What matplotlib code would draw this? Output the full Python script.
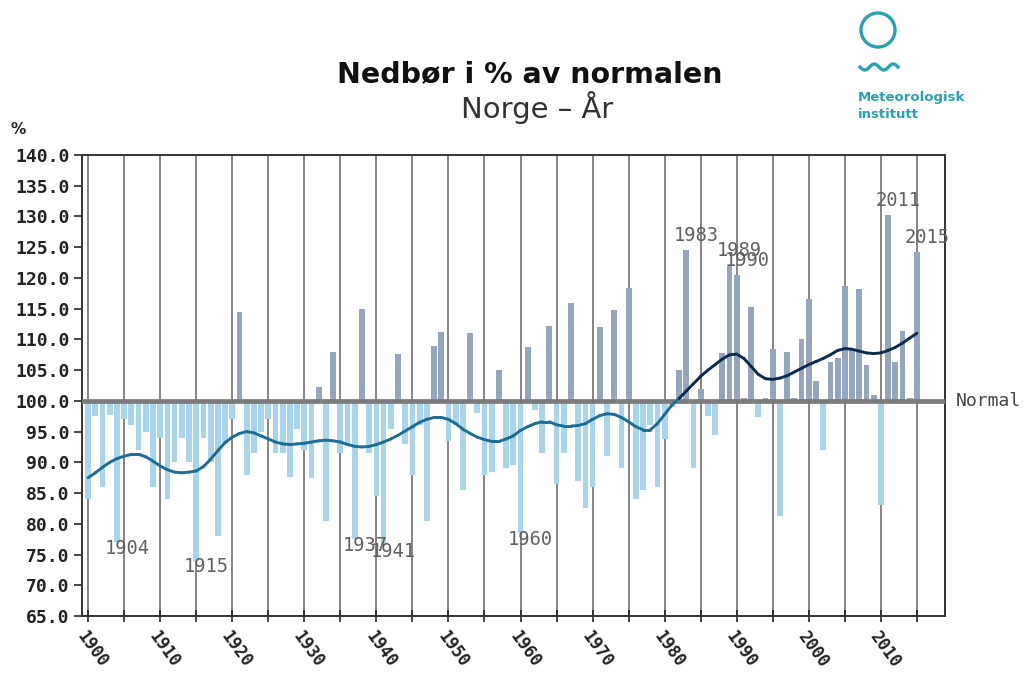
import numpy as np
import matplotlib
matplotlib.use("Agg")
import matplotlib.pyplot as plt
from matplotlib.collections import LineCollection
from matplotlib.patches import Ellipse
from matplotlib.lines import Line2D
from matplotlib.ticker import FixedLocator, FixedFormatter

# ---------------- data ----------------
years = list(range(1900, 2016))

precip = [
    84.0, 97.5, 86.0, 97.7, 77.0, 97.0, 96.0, 92.0, 95.0, 86.0,      # 1900-1909
    94.0, 84.0, 90.0, 94.0, 90.0, 74.0, 94.0, 90.0, 78.0, 93.0,      # 1910-1919
    97.0, 114.5, 88.0, 91.5, 95.0, 97.0, 91.5, 91.5, 87.6, 95.5,     # 1920-1929
    92.0, 87.5, 102.2, 80.5, 108.0, 91.5, 93.0, 77.5, 115.0, 91.5,   # 1930-1939
    84.5, 76.5, 95.5, 107.7, 93.0, 88.0, 96.0, 80.5, 109.0, 111.2,   # 1940-1949
    93.5, 96.0, 85.5, 111.0, 98.0, 88.0, 88.5, 105.0, 89.0, 89.5,    # 1950-1959
    78.5, 108.8, 98.5, 91.5, 112.2, 86.5, 91.5, 116.0, 87.0, 82.5,   # 1960-1969
    86.0, 112.0, 91.0, 114.8, 89.0, 118.3, 84.0, 85.5, 96.0, 86.0,   # 1970-1979
    93.8, 99.0, 105.0, 124.5, 89.0, 102.0, 97.5, 94.5, 107.8, 122.0, # 1980-1989
    120.5, 100.5, 115.3, 97.3, 100.4, 108.5, 81.3, 108.0, 100.5, 110.0,  # 1990-1999
    116.6, 103.2, 92.0, 106.3, 107.0, 118.7, 108.5, 118.2, 105.8, 101.0, # 2000-2009
    83.0, 130.2, 106.3, 111.3, 100.5, 124.2,                          # 2010-2015
]

trend = [
    87.5, 88.3, 89.2, 90.0, 90.6, 91.0, 91.3, 91.3, 90.9, 90.2,      # 1900-1909
    89.4, 88.8, 88.4, 88.3, 88.4, 88.6, 89.3, 90.5, 91.9, 93.2,      # 1910-1919
    94.1, 94.7, 95.0, 94.8, 94.3, 93.8, 93.3, 93.0, 92.9, 93.0,      # 1920-1929
    93.1, 93.3, 93.5, 93.6, 93.5, 93.3, 92.9, 92.6, 92.5, 92.6,      # 1930-1939
    92.9, 93.3, 93.8, 94.4, 95.1, 95.8, 96.5, 97.0, 97.3, 97.3,      # 1940-1949
    97.0, 96.3, 95.4, 94.7, 94.1, 93.7, 93.4, 93.4, 93.8, 94.3,      # 1950-1959
    95.2, 95.8, 96.3, 96.6, 96.6, 96.1, 95.9, 95.9, 96.0, 96.3,      # 1960-1969
    97.0, 97.6, 97.9, 97.8, 97.3, 96.6, 95.8, 95.3, 95.3, 96.3,      # 1970-1979
    97.8, 99.3, 100.4, 101.6, 102.8, 104.0, 105.0, 105.9, 106.8, 107.5,  # 1980-1989
    107.6, 106.9, 105.6, 104.3, 103.6, 103.5, 103.7, 104.1, 104.7, 105.3, # 1990-1999
    105.9, 106.4, 106.9, 107.5, 108.2, 108.5, 108.4, 108.1, 107.8, 107.7, # 2000-2009
    107.8, 108.2, 108.7, 109.4, 110.2, 111.0,                         # 2010-2015
]

labels_low = [1904, 1915, 1937, 1941, 1960]
labels_high = [1983, 1989, 1990, 2011, 2015]

y_ticks = [65, 70, 75, 80, 85, 90, 95, 100, 105, 110, 115, 120, 125, 130, 135, 140]
x_ticks = list(range(1900, 2016, 5))
x_labels = [str(t) if t % 10 == 0 else "" for t in x_ticks]

NORMAL = 100.0

# ---------------- styling ----------------
C_ABOVE = "#93a6bd"
C_BELOW = "#a9d5ec"
C_LINE_BELOW = "#1c6d96"
C_LINE_ABOVE = "#0c2b50"
C_LOGO = "#2aa0b6"
MONO = "DejaVu Sans Mono"

W, H = 1027, 674
fig = plt.figure(figsize=(W / 100, H / 100), dpi=100)
fig.patch.set_facecolor("white")

ax_l, ax_r, ax_t, ax_b = 82, 945, 155, 616
ax = fig.add_axes([ax_l / W, 1 - ax_b / H, (ax_r - ax_l) / W, (ax_b - ax_t) / H])

yrs = np.array(years, dtype=float)
p = np.array(precip)
t = np.array(trend)

colors = [C_ABOVE if v >= NORMAL else C_BELOW for v in p]
ax.bar(yrs, p - NORMAL, bottom=NORMAL, width=0.8, color=colors, zorder=2, linewidth=0)

ax.axhline(NORMAL, color="#7b7b7b", lw=3.4, zorder=3)

pts = np.column_stack([yrs, t])
segs = np.stack([pts[:-1], pts[1:]], axis=1)
seg_cols = [C_LINE_ABOVE if (a + b) / 2 >= NORMAL else C_LINE_BELOW for a, b in zip(t[:-1], t[1:])]
lc = LineCollection(segs, colors=seg_cols, linewidths=2.1, zorder=4, capstyle="round", joinstyle="round")
ax.add_collection(lc)

ax.set_xlim(1899.15, 2018.9)
ax.set_ylim(65, 140)

ax.xaxis.set_major_locator(FixedLocator(x_ticks))
ax.xaxis.set_major_formatter(FixedFormatter(x_labels))
ax.set_yticks(y_ticks)
ax.set_yticklabels([f"{v:.1f}" for v in y_ticks])
ax.grid(axis="x", color="#6f6f6f", lw=1.2, zorder=1)
ax.grid(axis="y", visible=False)
ax.set_axisbelow(True)

ax.tick_params(axis="y", direction="out", length=6, width=1.2, pad=3, labelsize=13, colors="#222222")
ax.tick_params(axis="x", direction="inout", length=9, width=1.2, pad=4, labelsize=12, colors="#222222")
for lab in ax.get_yticklabels():
    lab.set_family(MONO)
    lab.set_fontweight("bold")
for lab in ax.get_xticklabels():
    lab.set_family(MONO)
    lab.set_fontweight("bold")
    lab.set_rotation(-54)
    lab.set_ha("left")
    lab.set_va("top")
    lab.set_rotation_mode("anchor")

for s in ax.spines.values():
    s.set_color("#333333")
    s.set_linewidth(1.4)

# year annotations (overlapping pairs as in the original)
for yr in labels_low:
    v = precip[years.index(yr)]
    ax.text(yr + 1.4, v - 1.0, str(yr), ha="center", va="center", fontsize=13.5,
            family=MONO, color="#606060", zorder=5)
for yr in labels_high:
    v = precip[years.index(yr)]
    ax.text(yr + 1.4, v + 2.4, str(yr), ha="center", va="center", fontsize=13.5,
            family=MONO, color="#606060", zorder=5)

# "Normal" label
ax.text(1.012, NORMAL, "Normal", transform=ax.get_yaxis_transform(), ha="left", va="center",
        fontsize=13, family=MONO, color="#444444", clip_on=False)

# "%" label
fig.text(18 / W, 1 - 130 / H, "%", ha="center", va="center", fontsize=11, fontweight="bold",
         family="DejaVu Sans", color="#222222")

# titles
fig.text(530 / W, 1 - 74 / H, "Nedbør i % av normalen", ha="center", va="center",
         fontsize=20.5, fontweight="bold", color="#111111")
fig.text(537 / W, 1 - 108 / H, "Norge – År", ha="center", va="center",
         fontsize=21, color="#333333")

# logo
fig.add_artist(Ellipse((878 / W, 1 - 30 / H), 34 / W, 34 / H, transform=fig.transFigure,
                       fill=False, edgecolor=C_LOGO, lw=2.4))
wx = np.linspace(860, 898, 80)
wy = 67 + 3.0 * np.sin((wx - 860) / 38 * 2 * np.pi * 2)
fig.add_artist(Line2D(wx / W, 1 - wy / H, transform=fig.transFigure, color=C_LOGO, lw=2.4))
fig.text(858 / W, 1 - 98 / H, "Meteorologisk", ha="left", va="center", fontsize=9.5,
         fontweight="bold", color=C_LOGO)
fig.text(858 / W, 1 - 115 / H, "institutt", ha="left", va="center", fontsize=9.5,
         fontweight="bold", color=C_LOGO)

fig.savefig("out.png", dpi=100, facecolor="white")
